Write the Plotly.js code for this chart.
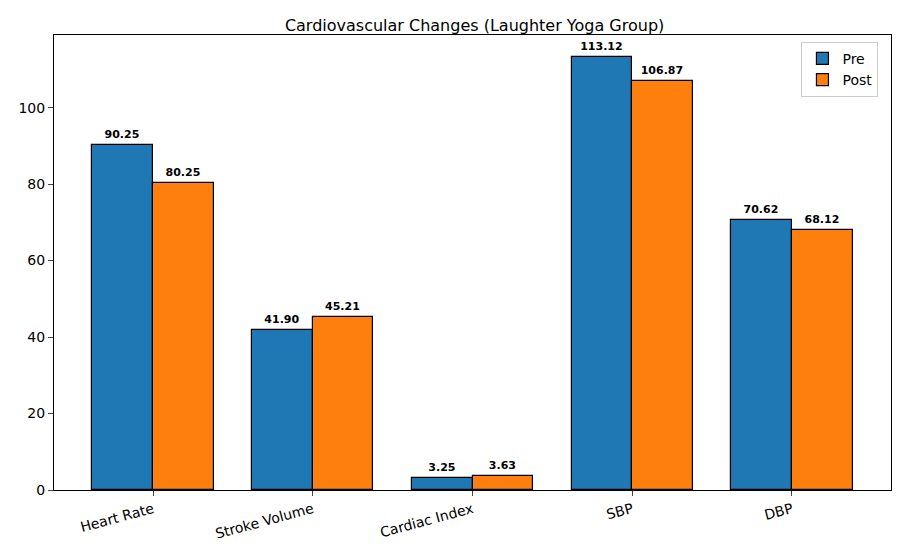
<!DOCTYPE html>
<html>
<head>
<script src="https://cdn.plot.ly/plotly-3.0.1.min.js"></script>
<style>body{margin:0;background:#fff}</style>
</head>
<body>
<div id="chart" style="width:904px;height:558px"></div>
<script>
const categories = ['Heart Rate', 'Stroke Volume', 'Cardiac Index', 'SBP', 'DBP'];
const preValues = [90.25, 41.90, 3.25, 113.12, 70.62];
const postValues = [80.25, 45.21, 3.63, 106.87, 68.12];
const yTicks = [0, 20, 40, 60, 80, 100];

const idx = categories.map((c, i) => i);

function series(name, vals, offset, color) {
    return {
        type: 'bar', name: name,
        x: idx.map(i => i + offset), y: vals, width: 0.38,
        marker: { color: color, line: { color: '#000', width: 1.2 } },
        text: vals.map(v => '<b>' + v.toFixed(2) + '</b>'),
        textposition: 'outside', cliponaxis: false,
        textfont: { size: 11, color: '#000', family: 'DejaVu Sans' }
    };
}

const data = [
    series('Pre', preValues, -0.19, '#1f77b4'),
    series('Post', postValues, 0.19, '#ff7f0e')
];

const layout = {
    width: 904, height: 558,
    margin: { l: 54, r: 13, t: 35, b: 68 },
    paper_bgcolor: '#fff', plot_bgcolor: '#fff',
    font: { family: 'DejaVu Sans', size: 13, color: '#000' },
    title: { text: 'Cardiovascular Changes (Laughter Yoga Group)', font: { size: 16 }, x: 0.525, y: 0.965 },
    showlegend: true,
    legend: { x: 0.985, y: 0.985, xanchor: 'right', yanchor: 'top', bordercolor: '#ccc', borderwidth: 1, font: { size: 14 } },
    xaxis: {
        range: [-0.62, 4.62], tickvals: idx, ticktext: categories, tickangle: -15,
        showline: true, mirror: true, linecolor: '#000', linewidth: 1,
        ticks: 'outside', ticklen: 5, showgrid: false, zeroline: false, tickfont: { size: 14 }
    },
    yaxis: {
        range: [0, 119], tickvals: yTicks,
        showline: true, mirror: true, linecolor: '#000', linewidth: 1,
        ticks: 'outside', ticklen: 5, showgrid: false, zeroline: false, tickfont: { size: 14 }
    },
    bargap: 0
};

Plotly.newPlot('chart', data, layout, { displayModeBar: false });
</script>
</body>
</html>
